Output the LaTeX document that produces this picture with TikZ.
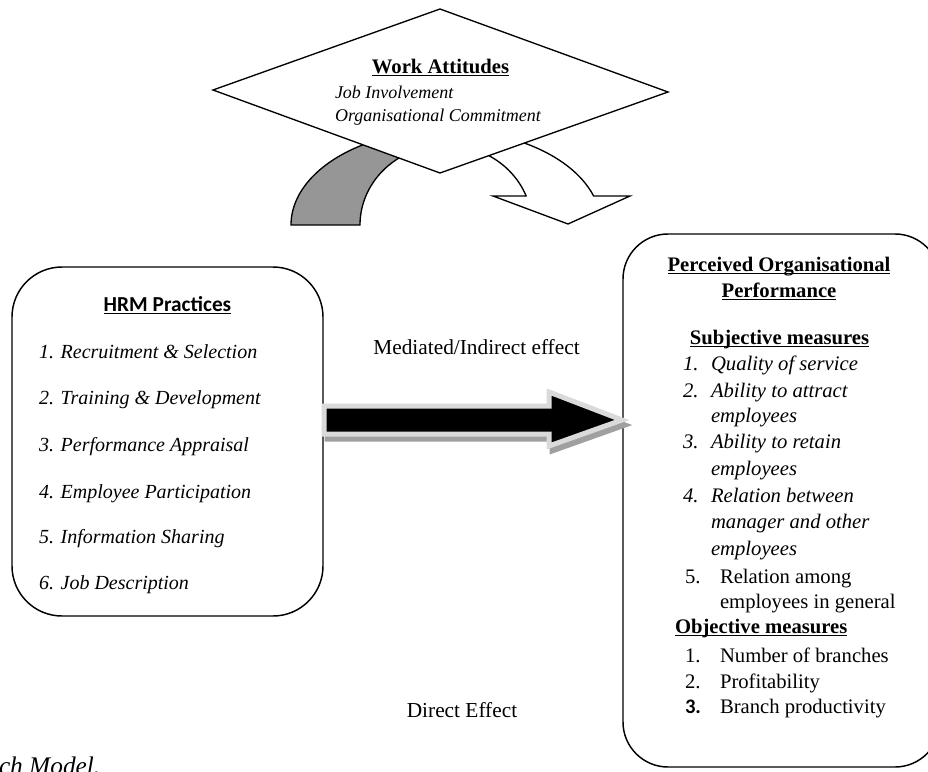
\documentclass[tikz,border=0pt]{standalone}
\usepackage{fontspec}
\setmainfont{Liberation Serif}
\newfontfamily\calibrifont{Carlito}
\usetikzlibrary{calc}

\newdimen\pxu \pxu=0.75pt
% underline at a fixed depth, crossing descenders like a word processor does
\newcommand{\undertext}[1]{\setbox0\hbox{#1}\rlap{\rule[-2.6pt]{\wd0}{0.9pt}}\box0}

\definecolor{bandgray}{RGB}{150,150,150}
\definecolor{arrowrim}{RGB}{218,218,218}
\definecolor{shadowgray}{RGB}{160,160,160}

\begin{document}
\begin{tikzpicture}[x=0.75pt, y=-0.75pt,
  every node/.style={inner sep=0pt, outer sep=0pt},
  panel/.style={draw=black, line width=1.1pt, fill=white},
  outline/.style={draw=black, line width=1pt},
  headtxt/.style={font=\fontsize{15.5pt}{18pt}\selectfont\bfseries, anchor=base},
  hrmitem/.style={font=\fontsize{15pt}{18pt}\selectfont\itshape, anchor=base west},
  attitem/.style={font=\fontsize{13.5pt}{16pt}\selectfont\itshape, anchor=base west},
  perfit/.style={font=\fontsize{15.5pt}{18pt}\selectfont\itshape, anchor=base west},
  perfrm/.style={font=\fontsize{15.5pt}{18pt}\selectfont, anchor=base west},
  effecttxt/.style={font=\fontsize{16pt}{19pt}\selectfont, anchor=base}
]
\useasboundingbox (0,0) rectangle (928,771);
\clip (0,0) rectangle (928,771);
\fill[white] (0,0) rectangle (928,771);

% ---- curved arrow passing behind the diamond ----
% front (white) part with its arrow head
\draw[outline, fill=white]
  plot[variable=\t, domain=90:17.8, samples=60] ({446+155*cos(\t)},{225-95*sin(\t)})
  -- (630,196) -- (568,224) -- (493,196) -- (526.1,196)
  -- plot[variable=\t, domain=21.3:90, samples=60] ({446+86*cos(\t)},{225-80*sin(\t)})
  -- cycle;
% shaded tail
\draw[outline, fill=bandgray]
  plot[variable=\t, domain=90:180, samples=60] ({446+155*cos(\t)},{225-95*sin(\t)})
  -- plot[variable=\t, domain=180:90, samples=60] ({446+86*cos(\t)},{225-80*sin(\t)})
  -- cycle;

% ---- work attitudes diamond ----
\draw[outline, fill=white] (440,9) -- (668,92) -- (440,173) -- (213,90) -- cycle;
\node[headtxt] (wa) at (440.5,73) {\undertext{Work Attitudes}};
\node[attitem] (wa1) at (335,98) {Job Involvement};
\node[attitem] (wa2) at (335,121) {Organisational Commitment};

% ---- HRM practices box ----
\node[panel, rounded corners=37.5pt, minimum width=311\pxu, minimum height=349\pxu] (hrm) at (167.5,441.5) {};
\node[font=\fontsize{16pt}{19pt}\selectfont\calibrifont\bfseries, anchor=base] (hrmt) at (167.5,311) {\undertext{HRM Practices}};
\node[hrmitem] (h1) at (39,358) {1. Recruitment \& Selection};
\node[hrmitem] (h2) at (39,404) {2. Training \& Development};
\node[hrmitem] (h3) at (39,451) {3. Performance Appraisal};
\node[hrmitem] (h4) at (39,498) {4. Employee Participation};
\node[hrmitem] (h5) at (39,543) {5. Information Sharing};
\node[hrmitem] (h6) at (39,589) {6. Job Description};

% ---- perceived organisational performance box ----
\node[panel, rounded corners=33.75pt, minimum width=317\pxu, minimum height=533\pxu] (perf) at (781.5,500.5) {};
\node[headtxt] (pt1) at (779,271) {\undertext{Perceived Organisational}};
\node[headtxt] (pt2) at (779,297) {\undertext{Performance}};
\node[headtxt] (subj) at (779.5,344) {\undertext{Subjective measures}};

\node[perfit] (s1n) at (683,370) {1.};
\node[perfit] (s1) at (711,370) {Quality of service};
\node[perfit] (s2n) at (683,397) {2.};
\node[perfit] (s2) at (711,397) {Ability to attract};
\node[perfit] (s2b) at (711,422) {employees};
\node[perfit] (s3n) at (683,448) {3.};
\node[perfit] (s3) at (711,448) {Ability to retain};
\node[perfit] (s3b) at (711,475) {employees};
\node[perfit] (s4n) at (683,502) {4.};
\node[perfit] (s4) at (711,502) {Relation between};
\node[perfit] (s4b) at (711,528) {manager and other};
\node[perfit] (s4c) at (711,555) {employees};
\node[perfrm] (s5n) at (685,583) {5.};
\node[perfrm] (s5) at (720,583) {Relation among};
\node[perfrm] (s5b) at (720,608) {employees in general};

\node[headtxt, anchor=base west] (obj) at (675,633) {\undertext{Objective measures}};
\node[perfrm] (o1n) at (685,662) {1.};
\node[perfrm] (o1) at (720,662) {Number of branches};
\node[perfrm] (o2n) at (685,688) {2.};
\node[perfrm] (o2) at (720,688) {Profitability};
\node[perfrm, font=\fontsize{15.5pt}{18pt}\selectfont\calibrifont\bfseries] (o3n) at (685,713) {3.};
\node[perfrm] (o3) at (720,713) {Branch productivity};

% ---- block arrow from HRM practices to performance ----
\coordinate (midrow) at (0,420);
\coordinate (tail) at (hrm.east |- midrow);
\coordinate (tip) at (perf.west |- midrow);
\filldraw[shadowgray, line width=3.75pt, line join=miter]
  ($(tail)+(4,-9)$) -- ($(tip)+(-71,-9)$) -- ($(tip)+(-71,-23)$) -- ($(tip)+(2,5)$)
  -- ($(tip)+(-71,31)$) -- ($(tip)+(-71,19)$) -- ($(tail)+(4,19)$) -- cycle;
\filldraw[draw=arrowrim, fill=black, line width=3.75pt, line join=miter]
  ($(tail)+(1,-14)$) -- ($(tip)+(-74,-14)$) -- ($(tip)+(-74,-28)$) -- ($(tip)+(-1,0)$)
  -- ($(tip)+(-74,26)$) -- ($(tip)+(-74,14)$) -- ($(tail)+(1,14)$) -- cycle;

% ---- effect labels ----
\node[effecttxt] (mediated) at (476.5,354) {Mediated/Indirect effect};
\node[effecttxt] (direct) at (462,717) {Direct Effect};

% ---- caption fragment at the lower edge ----
\node[font=\fontsize{19pt}{22pt}\selectfont\itshape, anchor=base west] (caption) at (-1,774) {ch Model.};
\end{tikzpicture}
\end{document}
